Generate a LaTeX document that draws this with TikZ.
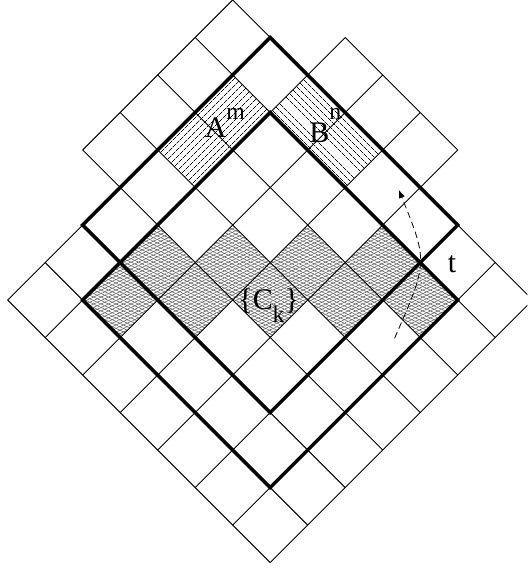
\documentclass[tikz,border=0pt]{standalone}
\usepackage{fontspec}
\setmainfont{Liberation Serif}
\usetikzlibrary{arrows.meta,patterns.meta}
\newcommand{\upidx}[2][0.6em]{\raisebox{#1}{\fontsize{18}{20}\selectfont #2}}
\newcommand{\dnidx}[1]{\raisebox{-0.43em}{\fontsize{18}{20}\selectfont #1}}
\tikzset{
  cellline/.style={
    line width=0.7pt,
    black
  },
  conebox/.style={
    line width=2.6pt,
    line join=miter,
    black
  },
  hatchA/.style={
    pattern={Lines[angle=45,distance=4pt,line width=0.45pt]}
  },
  hatchB/.style={
    pattern={Lines[angle=-45,distance=4pt,line width=0.45pt]}
  },
  ckmesh/.style={
    pattern={Lines[angle=#1,distance=2.4pt,line width=0.45pt]},
    pattern color=black!60
  },
  lbl/.style={
    font=\fontsize{22.7}{27}\selectfont,
    inner sep=0pt
  },
  flow/.style={
    -{Latex[length=2.2mm,width=1.6mm]},
    line width=0.6pt,
    dash pattern=on 5pt off 3pt
  }
}

\begin{document}
\begin{tikzpicture}
\clip (-7.204,-0.226) rectangle (6.858,15.0);
\begin{scope}[x={(1cm,1cm)},y={(-1cm,1cm)}]

\fill[hatchA] (4,6) -- (6,6) -- (6,7) -- (4,7) -- cycle;
\fill[hatchB] (6,4) -- (7,4) -- (7,6) -- (6,6) -- cycle;
\foreach \i/\j in {1/5,2/4,3/3,4/2,5/1,2/5,3/4,4/3,5/2} {
  \fill[ckmesh=25] (\i,\j) -- ++(1,0) -- ++(0,1) -- ++(-1,0) -- cycle;
  \fill[ckmesh=-25] (\i,\j) -- ++(1,0) -- ++(0,1) -- ++(-1,0) -- cycle;
}

\foreach \k in {0,...,7} {
  \draw[cellline] (\k,0) -- (\k,7);
  \draw[cellline] (0,\k) -- (7,\k);
}
\foreach \k in {3,...,7}
  \draw[cellline] (\k,7) -- (\k,8);
\draw[cellline] (3,8) -- (7,8);
\foreach \k in {3,...,6}
  \draw[cellline] (7,\k) -- (8,\k);
\draw[cellline] (8,3) -- (8,6);

\draw[conebox] (2,2) -- (7,2) -- (7,7) -- (2,7) -- cycle;
\draw[conebox] (1,1) -- (6,1) -- (6,6) -- (1,6) -- cycle;

\node[lbl] (am) at (5.25,6.46) {A\upidx{m}};
\node[lbl] (bn) at (6.56,5.09) {B\upidx[0.75em]{n}};
\node[lbl] (ck) at (3.40,3.44) {\{C\dnidx{k}\}};
\node[lbl] (tl) at (6.40,1.55) {t};

\coordinate (tail) at (4.648,1.331);
\coordinate (bend) at (6.111,1.902);
\coordinate (tip) at (6.685,3.255);
\draw[flow] (tail) .. controls (bend) .. (tip);

\end{scope}
\end{tikzpicture}
\end{document}
